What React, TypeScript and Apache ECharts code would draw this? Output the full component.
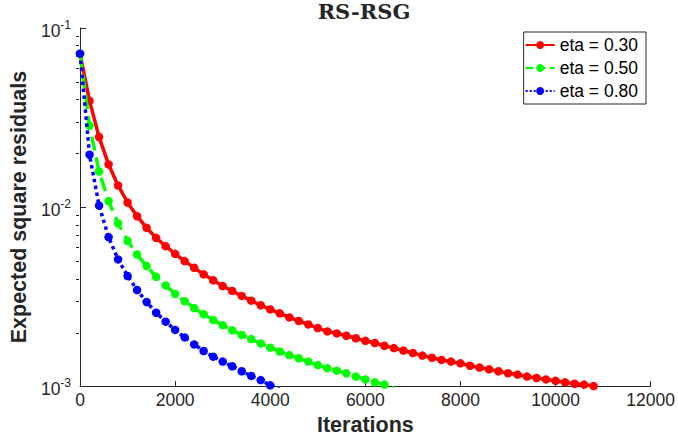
import React, { useEffect, useRef } from "react";
import * as echarts from "echarts";

const TITLE = "RS-RSG";
const X_NAME = "Iterations";
const Y_NAME = "Expected square residuals";
const SERIES_NAMES = ["eta = 0.30", "eta = 0.50", "eta = 0.80"];
const COLORS = ["#ff0000", "#00ff00", "#0000ff"];

const ITER_RED = [
  0, 200, 400, 600, 800, 1000, 1200, 1400, 1600, 1800, 2000, 2200, 2400, 2600, 2800, 3000,
  3200, 3400, 3600, 3800, 4000, 4200, 4400, 4600, 4800, 5000, 5200, 5400, 5600, 5800, 6000,
  6200, 6400, 6600, 6800, 7000, 7200, 7400, 7600, 7800, 8000, 8200, 8400, 8600, 8800, 9000,
  9200, 9400, 9600, 9800, 10000, 10200, 10400, 10600, 10800,
];
const RED = [
  0.0719, 0.0392, 0.0246, 0.0173, 0.0132, 0.0106, 0.00889, 0.00766, 0.00673, 0.00605, 0.00548,
  0.00499, 0.00458, 0.00421, 0.0039, 0.00362, 0.0034, 0.00319, 0.003, 0.00283, 0.00268, 0.00255,
  0.00242, 0.00231, 0.00221, 0.00211, 0.00202, 0.00197, 0.00191, 0.00185, 0.00179, 0.00174,
  0.00168, 0.00163, 0.00158, 0.00153, 0.00148, 0.00144, 0.0014, 0.00137, 0.00134, 0.0013,
  0.00127, 0.00124, 0.00121, 0.00118, 0.00116, 0.00113, 0.00111, 0.00109, 0.00107, 0.00105,
  0.00103, 0.00102, 0.001,
];

const ITER_GREEN = [
  0, 200, 400, 600, 800, 1000, 1200, 1400, 1600, 1800, 2000, 2200, 2400, 2600, 2800, 3000,
  3200, 3400, 3600, 3800, 4000, 4200, 4400, 4600, 4800, 5000, 5200, 5400, 5600, 5800, 6000,
  6200, 6400, 6600,
];
const GREEN = [
  0.0719, 0.0285, 0.0158, 0.0108, 0.0081, 0.00646, 0.00543, 0.00468, 0.00408, 0.00365, 0.00327,
  0.00298, 0.00273, 0.00252, 0.00234, 0.00219, 0.00205, 0.00193, 0.00183, 0.00173, 0.00164,
  0.00156, 0.00149, 0.00143, 0.00137, 0.00131, 0.00126, 0.00122, 0.00118, 0.00113, 0.00109,
  0.00105, 0.00102, 0.00098,
];

const ITER_BLUE = [
  0, 200, 400, 600, 800, 1000, 1200, 1400, 1600, 1800, 2000, 2200, 2400, 2600, 2800, 3000,
  3200, 3400, 3600, 3800, 4000, 4200,
];
const BLUE = [
  0.0719, 0.0196, 0.0102, 0.00679, 0.0051, 0.00412, 0.00344, 0.00295, 0.00257, 0.00229, 0.00206,
  0.00187, 0.00171, 0.00157, 0.00146, 0.00137, 0.00129, 0.00121, 0.00114, 0.00108, 0.00101,
  0.00096,
];

const X_MIN = 0;
const X_MAX = 12000;
const X_INTERVAL = 2000;
const Y_MIN = 0.001;
const Y_MAX = 0.1;
// minor tick values on the log axis (2..9 x each decade)
const MINOR_MULTS = [2, 3, 4, 5, 6, 7, 8, 9];
const DECADES = [0.001, 0.01];

const AXIS_COLOR = "#262626";
const FONT = "'Liberation Sans', Arial, Helvetica, sans-serif";

export default function App() {
  const ref = useRef<HTMLDivElement>(null);

  useEffect(() => {
    if (!ref.current) return;
    const chart = echarts.init(ref.current, undefined, { renderer: "svg" });

    const pairs = (xs: number[], ys: number[]) => xs.map((x, i) => [x, ys[i]]);
    const minorLog: number[] = [];
    DECADES.forEach((d) => MINOR_MULTS.forEach((m) => minorLog.push(Math.log10(m * d))));

    const gridPos = { left: 76, right: 26, top: 28, bottom: 54 };
    const styles = ["solid", "dashed", "dotted"];
    const datasets = [
      pairs(ITER_RED, RED),
      pairs(ITER_GREEN, GREEN),
      pairs(ITER_BLUE, BLUE),
    ];

    chart.setOption({
      animation: false,
      textStyle: { fontFamily: FONT, color: AXIS_COLOR },
      graphic: [
        {
          type: "text",
          x: 364,
          y: 1,
          style: {
            text: TITLE,
            fontFamily: "DejaVu Serif",
            fontWeight: "bold",
            fontSize: 21,
            fill: AXIS_COLOR,
            textAlign: "center",
            textVerticalAlign: "top",
          },
        },
      ],
      legend: {
        orient: "vertical",
        right: 32,
        top: 32,
        padding: [4, 8, 4, 1],
        itemGap: 5,
        itemWidth: 29,
        itemHeight: 10,
        borderColor: AXIS_COLOR,
        borderWidth: 1,
        textStyle: { fontSize: 17.5, color: "#000", fontFamily: FONT, lineHeight: 17.5 },
        data: SERIES_NAMES,
      },
      grid: [
        { ...gridPos, containLabel: false },
        { ...gridPos, containLabel: false },
      ],
      xAxis: [
        {
          type: "value",
          gridIndex: 0,
          min: X_MIN,
          max: X_MAX,
          interval: X_INTERVAL,
          name: X_NAME,
          nameLocation: "middle",
          nameGap: 27,
          nameTextStyle: { fontWeight: "bold", fontSize: 21.5, color: AXIS_COLOR, fontFamily: FONT },
          axisLine: { onZero: false, lineStyle: { color: AXIS_COLOR, width: 1 } },
          axisTick: { inside: true, length: 5, lineStyle: { color: AXIS_COLOR } },
          axisLabel: {
            fontSize: 17.5,
            color: AXIS_COLOR,
            margin: 5,
            fontFamily: FONT,
            formatter: (v: number) => String(v),
          },
          splitLine: { show: false },
        },
        { type: "value", gridIndex: 1, min: 0, max: 1, show: false },
      ],
      yAxis: [
        {
          type: "log",
          logBase: 10,
          gridIndex: 0,
          min: Y_MIN,
          max: Y_MAX,
          name: Y_NAME,
          nameLocation: "middle",
          nameGap: 47,
          nameTextStyle: { fontWeight: "bold", fontSize: 21.5, color: AXIS_COLOR, fontFamily: FONT },
          axisLine: { onZero: false, lineStyle: { color: AXIS_COLOR, width: 1 } },
          axisTick: { inside: true, length: 6, lineStyle: { color: AXIS_COLOR } },
          splitLine: { show: false },
          axisLabel: {
            margin: 9,
            padding: [6, 0, 0, 0],
            formatter: (v: number) => `{b|10}{s|${Math.round(Math.log10(v))}}`,
            rich: {
              b: { fontSize: 17.5, lineHeight: 24, color: AXIS_COLOR, fontFamily: FONT },
              s: { fontSize: 12, lineHeight: 12, verticalAlign: "top", color: AXIS_COLOR, fontFamily: FONT },
            },
          },
        },
        {
          type: "value",
          gridIndex: 1,
          min: -3,
          max: -1,
          axisLine: { show: false },
          axisLabel: { show: false },
          splitLine: { show: false },
          axisTick: {
            show: true,
            inside: true,
            length: 3,
            customValues: minorLog,
            lineStyle: { color: AXIS_COLOR },
          },
        },
      ],
      series: SERIES_NAMES.map((name, i) => ({
        name,
        type: "line",
        xAxisIndex: 0,
        yAxisIndex: 0,
        data: datasets[i],
        symbol: "circle",
        symbolSize: 8.5,
        showSymbol: true,
        showAllSymbol: true,
        clip: true,
        color: COLORS[i],
        itemStyle: { color: COLORS[i] },
        lineStyle: { color: COLORS[i], width: 3.5, type: styles[i] },
        z: 2 + i,
      })),
    });

    return () => chart.dispose();
  }, []);

  return <div ref={ref} style={{ width: 678, height: 441, position: "absolute", left: 0, top: 0 }} />;
}
